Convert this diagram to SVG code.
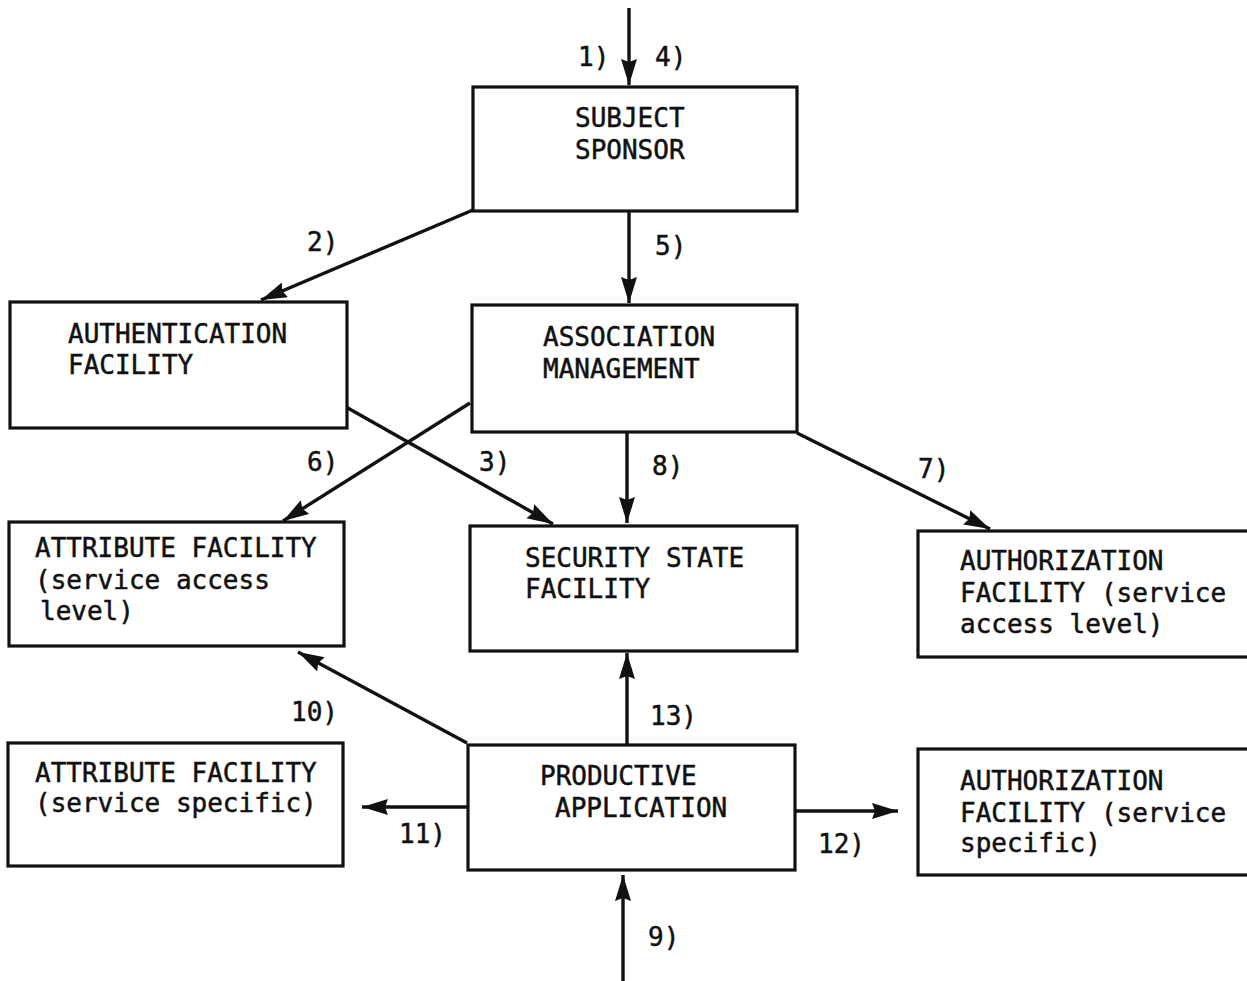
<svg xmlns="http://www.w3.org/2000/svg" width="1247" height="981" viewBox="0 0 1247 981">
  <style>
    .box { fill: #fff; stroke: #111; stroke-width: 3.2; }
    .t { font-family: "DejaVu Sans Mono", "Liberation Mono", monospace; font-size: 26px; fill: #111; stroke: #111; stroke-width: 0.5; }
    .edge { stroke: #111; stroke-width: 3.4; fill: none; marker-end: url(#arrow); }
  </style>
  <defs>
    <marker id="arrow" markerUnits="userSpaceOnUse" markerWidth="28" markerHeight="18" refX="26" refY="8" orient="auto">
      <path d="M0,0 L26,8 L0,16 L3,8 z" fill="#111"/>
    </marker>
  </defs>
  <rect width="1247" height="981" fill="#fff"/>

  <!-- connectors -->
  <g id="connectors">
    <line class="edge" x1="629" y1="8" x2="629" y2="85"/>
    <line class="edge" x1="473" y1="210" x2="261" y2="300"/>
    <line class="edge" x1="629" y1="212" x2="629" y2="303"/>
    <line class="edge" x1="470" y1="403" x2="283" y2="521"/>
    <line class="edge" x1="346" y1="407" x2="553" y2="524"/>
    <line class="edge" x1="627" y1="433" x2="627" y2="523"/>
    <line class="edge" x1="797" y1="433" x2="990" y2="529"/>
    <line class="edge" x1="467" y1="743" x2="298" y2="652"/>
    <line class="edge" x1="627" y1="745" x2="627" y2="653"/>
    <line class="edge" x1="468" y1="807" x2="362" y2="807"/>
    <line class="edge" x1="795" y1="811" x2="898" y2="811"/>
    <line class="edge" x1="623" y1="981" x2="623" y2="875"/>

    <text class="t" x="578" y="66">1)</text>
    <text class="t" x="655" y="66">4)</text>
    <text class="t" x="307" y="251">2)</text>
    <text class="t" x="655" y="255">5)</text>
    <text class="t" x="307" y="471">6)</text>
    <text class="t" x="479" y="471">3)</text>
    <text class="t" x="652" y="475">8)</text>
    <text class="t" x="918" y="478">7)</text>
    <text class="t" x="291" y="721">10)</text>
    <text class="t" x="650" y="725">13)</text>
    <text class="t" x="399" y="843">11)</text>
    <text class="t" x="818" y="853">12)</text>
    <text class="t" x="648" y="946">9)</text>
  </g>

  <g id="subject-sponsor">
    <rect class="box" x="473" y="87" width="324" height="124"/>
    <text class="t" x="575" y="127">SUBJECT</text>
    <text class="t" x="575" y="159">SPONSOR</text>
  </g>

  <g id="authentication-facility">
    <rect class="box" x="10" y="302" width="337" height="126"/>
    <text class="t" x="68" y="343">AUTHENTICATION</text>
    <text class="t" x="68" y="374">FACILITY</text>
  </g>

  <g id="association-management">
    <rect class="box" x="472" y="305" width="325" height="127"/>
    <text class="t" x="543" y="346">ASSOCIATION</text>
    <text class="t" x="543" y="378">MANAGEMENT</text>
  </g>

  <g id="attribute-facility-access">
    <rect class="box" x="9" y="522" width="335" height="124"/>
    <text class="t" x="35" y="557">ATTRIBUTE FACILITY</text>
    <text class="t" x="35" y="589">(service access</text>
    <text class="t" x="40" y="620">level)</text>
  </g>

  <g id="security-state-facility">
    <rect class="box" x="470" y="526" width="327" height="125"/>
    <text class="t" x="525" y="567">SECURITY STATE</text>
    <text class="t" x="525" y="598">FACILITY</text>
  </g>

  <g id="authorization-facility-access">
    <rect class="box" x="918" y="531" width="334" height="126"/>
    <text class="t" x="960" y="570">AUTHORIZATION</text>
    <text class="t" x="960" y="602">FACILITY (service</text>
    <text class="t" x="960" y="633">access level)</text>
  </g>

  <g id="attribute-facility-specific">
    <rect class="box" x="8" y="743" width="335" height="123"/>
    <text class="t" x="35" y="782">ATTRIBUTE FACILITY</text>
    <text class="t" x="35" y="812">(service specific)</text>
  </g>

  <g id="productive-application">
    <rect class="box" x="468" y="745" width="327" height="125"/>
    <text class="t" x="540" y="785">PRODUCTIVE</text>
    <text class="t" x="555" y="817">APPLICATION</text>
  </g>

  <g id="authorization-facility-specific">
    <rect class="box" x="918" y="749" width="334" height="126"/>
    <text class="t" x="960" y="790">AUTHORIZATION</text>
    <text class="t" x="960" y="822">FACILITY (service</text>
    <text class="t" x="960" y="852">specific)</text>
  </g>
</svg>
